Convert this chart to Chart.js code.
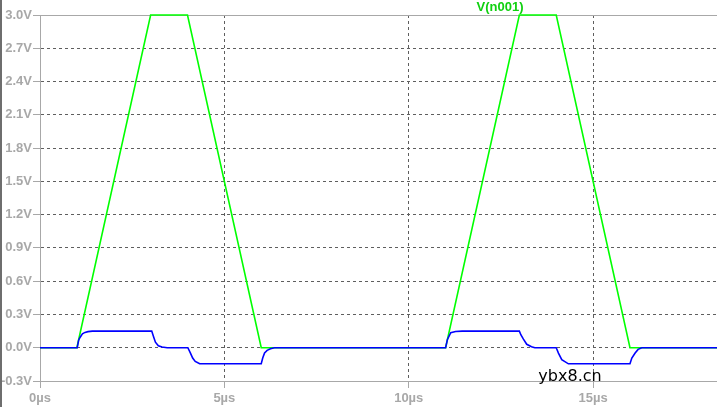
<!DOCTYPE html>
<html>
<head>
<meta charset="utf-8">
<script src="https://cdn.jsdelivr.net/npm/chart.js@4.4.1/dist/chart.umd.min.js"></script>
<style>
html, body { margin: 0; padding: 0; background: #fff; overflow: hidden; }
#wrap { position: relative; width: 717px; height: 407px; }
#edge { position: absolute; left: 0; top: 0; width: 2px; height: 407px; background: #6e6e6e; }
</style>
</head>
<body>
<div id="wrap"><canvas id="plot" width="717" height="407"></canvas><div id="edge"></div></div>
<script>
// tick values
const xTicks = [0, 5, 10, 15];
const yTicks = [-0.3, 0.0, 0.3, 0.6, 0.9, 1.2, 1.5, 1.8, 2.1, 2.4, 2.7, 3.0];

// V(n001), time in µs (flat top is where the trace hits the 3.0V edge)
const vTime = [0, 1.0, 3.0, 4.0, 6.0, 11.0, 13.0, 14.0, 16.0, 18.36];
const vVolt = [0, 0, 3.0, 3.0, 0, 0, 3.0, 3.0, 0, 0];

// second (blue) trace
const iTime = [
    0, 1.01, 1.05, 1.09, 1.15, 1.22, 1.30, 1.42,
    3.03, 3.08, 3.13, 3.21, 3.31, 3.45,
    4.01, 4.08, 4.14, 4.21, 4.33,
    6.00, 6.04, 6.09, 6.16, 6.25, 6.36,
    11.00, 11.05, 11.14, 11.27, 11.45,
    13.00, 13.04, 13.11, 13.20, 13.33, 13.42,
    14.00, 14.06, 14.15, 14.33,
    16.00, 16.05, 16.14, 16.22, 16.32,
    18.36
];
const iVolt = [
    0, 0, 0.07, 0.095, 0.125, 0.138, 0.145, 0.15,
    0.15, 0.10, 0.05, 0.018, 0.006, 0,
    0, -0.048, -0.093, -0.123, -0.145,
    -0.145, -0.093, -0.048, -0.024, -0.009, 0,
    0, 0.075, 0.135, 0.147, 0.15,
    0.15, 0.117, 0.078, 0.031, 0.009, 0,
    0, -0.048, -0.108, -0.145,
    -0.145, -0.093, -0.048, -0.015, 0,
    0
];

const toPoints = (xs, ys) => xs.map((x, i) => ({ x: x, y: ys[i] }));

const axisGray = '#a8a8a8';
const gridGray = '#5e5e5e';
const labelFont = { family: 'Liberation Sans', size: 13, weight: 'bold' };

const textPlugin = {
    id: 'texts',
    afterDraw(chart) {
        const c = chart.ctx;
        c.save();
        c.textAlign = 'center';
        c.textBaseline = 'middle';
        c.font = 'bold 13px "Liberation Sans"';
        c.fillStyle = '#10d010';
        c.fillText('V(n001)', 500, 7);
        c.font = '16px "DejaVu Sans"';
        c.fillStyle = '#000';
        c.fillText('ybx8.cn', 570, 377);
        c.restore();
    }
};

new Chart(document.getElementById('plot'), {
    type: 'line',
    data: {
        datasets: [
            {
                label: 'I',
                data: toPoints(iTime, iVolt),
                borderColor: '#0000ff',
                borderWidth: 1.6,
                pointRadius: 0,
                tension: 0,
                clip: 3
            },
            {
                label: 'V(n001)',
                data: toPoints(vTime, vVolt),
                borderColor: '#00ff00',
                borderWidth: 1.6,
                pointRadius: 0,
                tension: 0,
                clip: 3
            }
        ]
    },
    options: {
        responsive: false,
        animation: false,
        layout: { padding: { top: 15, right: 0, left: 0, bottom: 0 } },
        plugins: { legend: { display: false }, tooltip: { enabled: false } },
        scales: {
            x: {
                type: 'linear',
                min: 0,
                max: 18.36,
                afterBuildTicks: s => { s.ticks = xTicks.map(v => ({ value: v })); },
                afterFit: s => { s.height = 26; },
                ticks: {
                    callback: v => v + 'µs',
                    color: axisGray,
                    font: labelFont,
                    padding: 3,
                    maxRotation: 0,
                    autoSkip: false
                },
                grid: {
                    color: ctx => (ctx.tick && ctx.tick.value === 0) ? 'rgba(0,0,0,0)' : gridGray,
                    tickColor: axisGray,
                    tickLength: 7,
                    lineWidth: 1
                },
                border: { color: axisGray, width: 1, dash: [3, 3] }
            },
            y: {
                min: -0.3,
                max: 3.0,
                afterBuildTicks: s => { s.ticks = yTicks.map(v => ({ value: v })); },
                afterFit: s => { s.width = 40; },
                ticks: {
                    callback: v => v.toFixed(1) + 'V',
                    color: axisGray,
                    font: labelFont,
                    padding: 1
                },
                grid: {
                    color: ctx => {
                        if (!ctx.tick) return gridGray;
                        const v = ctx.tick.value;
                        if (Math.abs(v - 3.0) < 1e-6 || Math.abs(v + 0.3) < 1e-6) return axisGray;
                        return gridGray;
                    },
                    tickColor: axisGray,
                    tickLength: 7,
                    lineWidth: 1
                },
                border: {
                    color: axisGray,
                    width: 1,
                    dash: ctx => (ctx.tick && (Math.abs(ctx.tick.value - 3.0) < 1e-6 || Math.abs(ctx.tick.value + 0.3) < 1e-6)) ? [] : [3, 3]
                }
            }
        }
    },
    plugins: [textPlugin]
});
</script>
</body>
</html>
